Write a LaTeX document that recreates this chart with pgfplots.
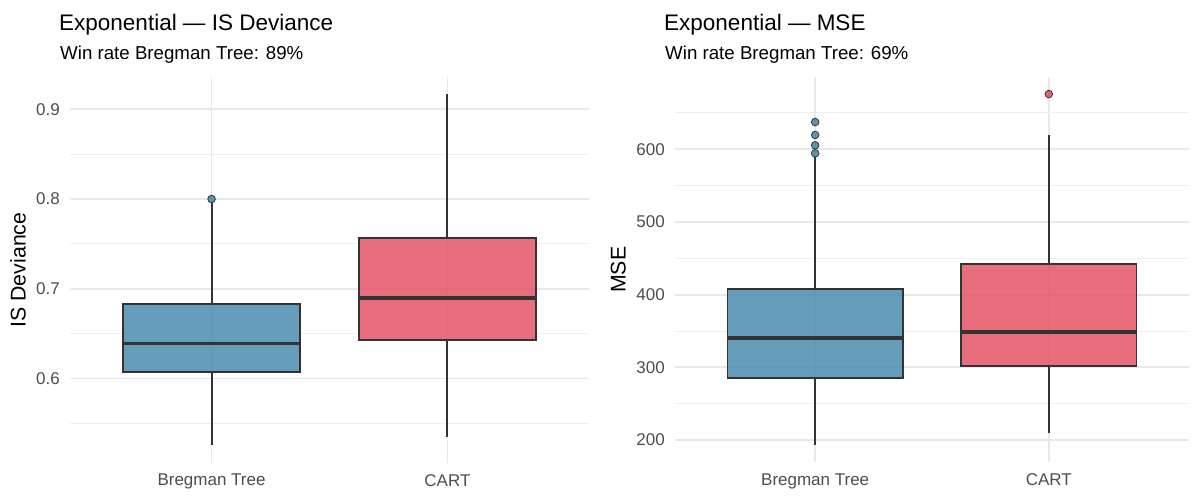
\documentclass[border=0pt]{standalone}
\usepackage{pgfplots}
\pgfplotsset{compat=1.18}
\usepgfplotslibrary{statistics}
\usepackage{fontspec}
\setmainfont{Liberation Sans}
\definecolor{bblue}{HTML}{3F85A9}
\definecolor{cred}{HTML}{E2495D}
\definecolor{gridc}{HTML}{E8E8E8}
\definecolor{gridm}{HTML}{EFEFEF}
\definecolor{tickc}{HTML}{4D4D4D}
\definecolor{boxc}{HTML}{333333}
\pgfplotsset{
  myaxis/.style={
    scale only axis, anchor=south west,
    xmin=0.4, xmax=2.6, xtick={1,2}, xticklabels={Bregman Tree, CART},
    axis line style={draw=none}, major tick length=0pt, minor tick length=0pt,
    xmajorgrids, ymajorgrids, yminorgrids,
    major grid style={draw=gridc, line width=1.8pt},
    minor grid style={draw=gridm, line width=1pt},
    tick label style={font=\fontsize{17}{20}\selectfont, text=tickc},
    /pgf/number format/assume math mode=true,
    scaled y ticks=false,
    yticklabel style={inner sep=0pt, anchor=east, xshift=-10pt},
    xticklabel style={inner sep=0pt, anchor=north, yshift=-11pt},
    label style={font=\fontsize{21.3}{25}\selectfont, text=black},
    ylabel style={anchor=center, inner sep=0pt},
    boxplot/draw direction=y,
    boxplot/box extend=0.75, boxplot/whisker extend=0,
    boxplot/every median/.style={line width=3.8pt, draw=boxc},
    boxplot/every whisker/.style={line width=2pt, draw=boxc},
  },
  bt/.style={draw=boxc, line width=1.8pt, fill=bblue, fill opacity=0.8,
    mark=*, mark size=3.8pt, mark options={fill=bblue, draw=boxc, line width=0.8pt, fill opacity=0.85}},
  ct/.style={draw=boxc, line width=1.8pt, fill=cred, fill opacity=0.8,
    mark=*, mark size=3.8pt, mark options={fill=cred, draw=boxc, line width=0.8pt, fill opacity=0.85}},
}
\begin{document}
\begin{tikzpicture}
\path[use as bounding box] (0,0) rectangle (1200pt,500pt);
% Left panel
\begin{axis}[myaxis, at={(70pt,37pt)}, width=519pt, height=386pt,
  ymin=0.5057, ymax=0.936,
  ytick={0.6,0.7,0.8,0.9}, minor ytick={0.55,0.65,0.75,0.85},
  yticklabels={0.6,0.7,0.8,0.9},
  ylabel={IS Deviance},
  ylabel style={at={(axis description cs:-0.1002,0.5)}}]
\addplot[bt, boxplot prepared={draw position=1, lower whisker=0.5256,
  lower quartile=0.6074, median=0.639, upper quartile=0.6828, upper whisker=0.795}]
  coordinates {(1,0.800)};
\addplot[ct, boxplot prepared={draw position=2, lower whisker=0.5349,
  lower quartile=0.643, median=0.690, upper quartile=0.7564, upper whisker=0.9167}]
  coordinates {};
\end{axis}
% Right panel
\begin{axis}[myaxis, at={(675pt,37.5pt)}, width=514pt, height=385.5pt,
  ymin=169.1, ymax=699.5,
  ytick={200,300,400,500,600}, minor ytick={250,350,450,550,650},
  yticklabels={200,300,400,500,600},
  ylabel={MSE},
  ylabel style={at={(axis description cs:-0.1103,0.5)}}]
\addplot[bt, boxplot prepared={draw position=1, lower whisker=193.1,
  lower quartile=284.9, median=340.7, upper quartile=407.3, upper whisker=589}]
  coordinates {(1,637.5) (1,619.7) (1,605.5) (1,594.5)};
\addplot[ct, boxplot prepared={draw position=2, lower whisker=210,
  lower quartile=302.2, median=348.2, upper quartile=442.1, upper whisker=619.7}]
  coordinates {(2,676)};
\end{axis}
% Titles
\node[anchor=base west, inner sep=0pt, font=\fontsize{22.5}{27}\selectfont] at (59pt,469pt) {Exponential — IS Deviance};
\node[anchor=base west, inner sep=0pt, font=\fontsize{18.7}{22}\selectfont] at (60pt,440pt) {Win rate Bregman Tree: 89\%};
\node[anchor=base west, inner sep=0pt, font=\fontsize{22.5}{27}\selectfont] at (664pt,469pt) {Exponential — MSE};
\node[anchor=base west, inner sep=0pt, font=\fontsize{18.7}{22}\selectfont] at (665pt,440pt) {Win rate Bregman Tree: 69\%};
\end{tikzpicture}
\end{document}
